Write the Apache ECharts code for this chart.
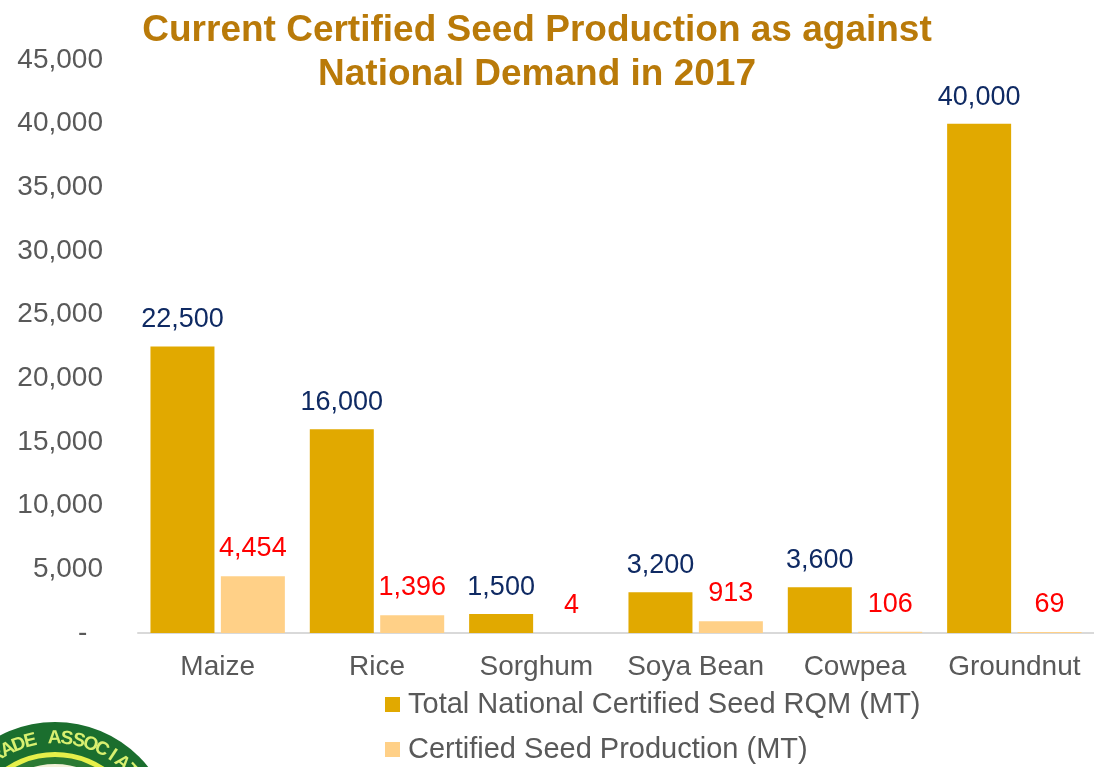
<!DOCTYPE html>
<html>
<head>
<meta charset="utf-8">
<script src="https://cdn.jsdelivr.net/npm/echarts@6/dist/echarts.min.js"></script>
<style>
  html, body { margin: 0; padding: 0; background: #fff; }
  #chart { width: 1094px; height: 767px; }
</style>
</head>
<body>
<div id="chart"></div>
<script>
// crops and values
const crops = ['Maize', 'Rice', 'Sorghum', 'Soya Bean', 'Cowpea', 'Groundnut']
const demand = [22500, 16000, 1500, 3200, 3600, 40000]
const production = [4454, 1396, 4, 913, 106, 69]
const yTicks = { min: 0, max: 45000, interval: 5000 }

const fmt = v => v.toLocaleString('en-US')
const FONT = 'Liberation Sans, Arial, sans-serif'

const chart = echarts.init(document.getElementById('chart'))

// logo fragment at bottom-left, letters placed along the ring
const logoCx = 55, logoCy = 841, logoR = 119
const logoText = 'TRADE ASSOCIATION'
const logoChars = []
for (let i = 0; i < logoText.length; i++) {
  const ang = (-131 + i * 6.8) * Math.PI / 180
  const rr = logoR - 16
  logoChars.push({
    type: 'text',
    x: logoCx + rr * Math.cos(ang),
    y: logoCy + rr * Math.sin(ang),
    rotation: -(ang + Math.PI / 2),
    style: {
      text: logoText[i], fill: '#d8f070', font: 'bold 19px ' + FONT,
      align: 'center', verticalAlign: 'middle'
    },
    z: 3
  })
}

chart.setOption({
  backgroundColor: '#fff',
  animation: false,
  title: {
    text: 'Current Certified Seed Production as against\nNational Demand in 2017',
    left: 532, top: 4, textAlign: 'center',
    textStyle: { color: '#b97a09', fontSize: 37, fontWeight: 'bold', fontFamily: FONT, lineHeight: 44 }
  },
  grid: { left: 138, top: 60, width: 960, bottom: 134 },
  legend: {
    orient: 'vertical', left: 385, top: 690, padding: 0,
    itemWidth: 15, itemHeight: 15, itemGap: 16, icon: 'rect',
    textStyle: { color: '#595959', fontSize: 29, fontFamily: FONT, padding: [0, 0, 0, 3] },
    data: ['Total National Certified Seed RQM (MT)', 'Certified Seed Production (MT)']
  },
  xAxis: {
    type: 'category', data: crops,
    axisLine: { lineStyle: { color: '#d9d9d9', width: 2 } },
    axisTick: { show: false },
    axisLabel: { color: '#595959', fontSize: 28, fontFamily: FONT, margin: 20, interval: 0 }
  },
  yAxis: {
    type: 'value', min: yTicks.min, max: yTicks.max, interval: yTicks.interval,
    splitLine: { show: false },
    axisLine: { show: false },
    axisTick: { show: false },
    axisLabel: {
      color: '#595959', fontSize: 28, fontFamily: FONT, margin: 35,
      formatter: v => v === 0 ? '-  ' : fmt(v)
    }
  },
  series: [
    {
      name: 'Total National Certified Seed RQM (MT)', type: 'bar',
      data: demand, barWidth: 64, barGap: '10%',
      itemStyle: { color: '#e1a900' },
      label: {
        show: true, position: 'top', distance: 13, color: '#0f2a63',
        fontSize: 27, fontFamily: FONT, formatter: p => fmt(p.value)
      }
    },
    {
      name: 'Certified Seed Production (MT)', type: 'bar',
      data: production, barWidth: 64,
      itemStyle: { color: '#ffd087' },
      label: {
        show: true, position: 'top', distance: 14, color: '#ff0000',
        fontSize: 27, fontFamily: FONT, formatter: p => fmt(p.value)
      }
    }
  ],
  graphic: [
    { type: 'circle', shape: { cx: logoCx, cy: logoCy, r: logoR }, style: { fill: '#1b6e2e' }, z: 1 },
    { type: 'circle', shape: { cx: logoCx, cy: logoCy, r: logoR - 30 }, style: { fill: '#e6f04a' }, z: 2 },
    { type: 'circle', shape: { cx: logoCx, cy: logoCy, r: logoR - 35 }, style: { fill: '#2c7a33' }, z: 2 },
    { type: 'circle', shape: { cx: logoCx, cy: logoCy, r: logoR - 42 }, style: { fill: '#f3f0d8' }, z: 2 },
    ...logoChars
  ]
})
</script>
</body>
</html>
